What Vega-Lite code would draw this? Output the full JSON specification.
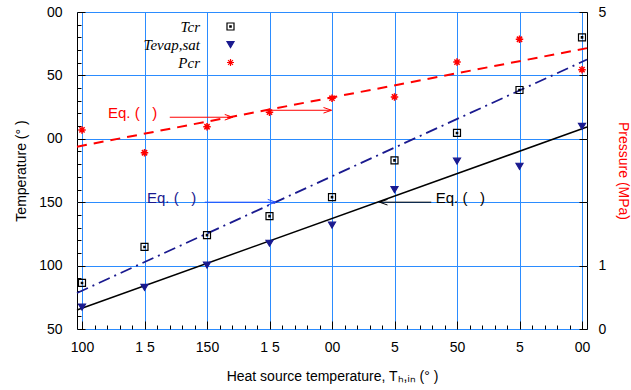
{
  "$schema": "https://vega.github.io/schema/vega-lite/v6.json",
  "width": 510,
  "height": 317,
  "autosize": "none",
  "padding": {"left": 77, "top": 12, "right": 44, "bottom": 61},
  "config": {
    "view": {"stroke": "black", "strokeWidth": 1},
    "font": "Liberation Sans",
    "axis": {"labelFont": "Liberation Sans", "titleFont": "Liberation Sans", "titleFontWeight": "normal", "labelColor": "black", "titleColor": "black", "labelFontSize": 14, "titleFontSize": 14, "domain": false, "tickColor": "black", "labelOverlap": false, "labelFlush": false},
    "legend": {"orient": "none", "legendX": 146, "legendY": 7, "padding": 0, "labelAlign": "right", "labelOffset": -38, "labelFont": "Liberation Serif", "labelFontStyle": "italic", "labelFontSize": 15, "labelColor": "black", "labelLimit": 200, "symbolSize": 49, "symbolStrokeWidth": 1.2, "rowPadding": 2}
  },
  "datasets": {
    "ptsT": [
      {"x": 100, "T": 86.3, "series": "Tcr"}, {"x": 125, "T": 114.7, "series": "Tcr"}, {"x": 150, "T": 124, "series": "Tcr"},
      {"x": 175, "T": 139, "series": "Tcr"}, {"x": 200, "T": 154, "series": "Tcr"}, {"x": 225, "T": 183, "series": "Tcr"},
      {"x": 250, "T": 204.6, "series": "Tcr"}, {"x": 275, "T": 238.5, "series": "Tcr"}, {"x": 300, "T": 280, "series": "Tcr"},
      {"x": 100, "T": 67.4, "series": "Tevap,sat"}, {"x": 125, "T": 83, "series": "Tevap,sat"}, {"x": 150, "T": 100.5, "series": "Tevap,sat"},
      {"x": 175, "T": 117.8, "series": "Tevap,sat"}, {"x": 200, "T": 132, "series": "Tevap,sat"}, {"x": 225, "T": 160, "series": "Tevap,sat"},
      {"x": 250, "T": 182.5, "series": "Tevap,sat"}, {"x": 275, "T": 178.5, "series": "Tevap,sat"}, {"x": 300, "T": 210, "series": "Tevap,sat"}
    ],
    "ptsP": [
      {"x": 100, "P": 3.14, "series": "Pcr"}, {"x": 125, "P": 2.78, "series": "Pcr"}, {"x": 150, "P": 3.19, "series": "Pcr"},
      {"x": 175, "P": 3.42, "series": "Pcr"}, {"x": 200, "P": 3.64, "series": "Pcr"}, {"x": 225, "P": 3.66, "series": "Pcr"},
      {"x": 250, "P": 4.21, "series": "Pcr"}, {"x": 275, "P": 4.57, "series": "Pcr"}, {"x": 300, "P": 4.09, "series": "Pcr"}
    ],
    "fitEvap": [{"x": 98, "T": 65}, {"x": 302, "T": 209.3}],
    "fitCr": [{"x": 98, "T": 78.4}, {"x": 302, "T": 262.5}],
    "fitP": [{"x": 98, "P": 2.875}, {"x": 302, "P": 4.43}],
    "arrowBlue": [{"x": 149.1, "xe": 177.5, "T": 150}],
    "arrowBlack": [{"x": 239.7, "xe": 219, "T": 150}],
    "arrowRed": [{"x": 135.1, "xe": 160.3, "P": 3.34}, {"x": 175, "xe": 199.8, "P": 3.45}],
    "textBlue": [{"x": 126, "T": 153, "label": "Eq. (\u00a0\u00a0\u00a0)"}],
    "textBlack": [{"x": 241.5, "T": 153, "label": "Eq. (\u00a0\u00a0\u00a0)"}],
    "textRed": [{"x": 110.4, "P": 3.41, "label": "Eq. (\u00a0\u00a0\u00a0)"}]
  },
  "encoding": {
    "x": {
      "field": "x", "type": "quantitative",
      "scale": {"domain": [98, 302], "nice": false, "zero": false},
      "axis": {
        "values": [100,105,110,115,120,125,130,135,140,145,150,155,160,165,170,175,180,185,190,195,200,205,210,215,220,225,230,235,240,245,250,255,260,265,270,275,280,285,290,295,300],
        "labelExpr": "datum.value==100?'100':datum.value==125?'1 5':datum.value==150?'150':datum.value==175?'1 5':datum.value==200?'00':datum.value==225?'5':datum.value==250?'50':datum.value==275?'5':datum.value==300?'00':''",
        "tickSize": {"condition": {"test": "datum.value % 25 == 0", "value": -8}, "value": -4},
        "grid": true, "gridColor": "#2b8cff", "gridWidth": 1,
        "gridOpacity": {"condition": {"test": "datum.value % 25 == 0", "value": 1}, "value": 0},
        "labelPadding": 19,
        "title": "Heat source temperature, Tₕ,ᵢₙ (°  )",
        "titlePadding": 11
      }
    }
  },
  "layer": [
    {
      "encoding": {
        "y": {
          "field": "T", "type": "quantitative",
          "scale": {"domain": [50, 300], "nice": false, "zero": false},
          "axis": {
            "orient": "left",
            "values": [50,60,70,80,90,100,110,120,130,140,150,160,170,180,190,200,210,220,230,240,250,260,270,280,290,300],
            "labelExpr": "datum.value==300?'00':datum.value==250?'50':datum.value==200?'00':datum.value==150?'150':datum.value==100?'100':datum.value==50?'50':''",
            "tickSize": {"condition": {"test": "datum.value % 50 == 0", "value": -8}, "value": -4},
            "grid": true, "gridColor": "#2b8cff", "gridWidth": 1,
            "gridOpacity": {"condition": {"test": "datum.value % 50 == 0", "value": 1}, "value": 0},
            "labelPadding": 23,
            "title": "Temperature (°  )",
            "titlePadding": 10
          }
        }
      },
      "layer": [
        {"data": {"name": "fitEvap"}, "mark": {"type": "line", "color": "black", "strokeWidth": 1.5}},
        {"data": {"name": "fitCr"}, "mark": {"type": "line", "color": "#1a1a8f", "strokeWidth": 1.8, "strokeDash": [12, 5, 2, 5]}},
        {"data": {"name": "arrowBlue"}, "mark": {"type": "rule", "color": "#1f4fff", "strokeWidth": 1}, "encoding": {"x2": {"field": "xe"}}},
        {"data": {"name": "arrowBlue"}, "mark": {"type": "point", "shape": "M-1,-0.35L0,0L-1,0.35", "filled": false, "size": 256, "color": "#1f4fff", "strokeWidth": 1, "opacity": 1}, "encoding": {"x": {"field": "xe", "type": "quantitative"}}},
        {"data": {"name": "textBlue"}, "mark": {"type": "text", "align": "left", "baseline": "middle", "fontSize": 15, "color": "#1a1a8f"}, "encoding": {"text": {"field": "label"}}},
        {"data": {"name": "arrowBlack"}, "mark": {"type": "rule", "color": "black", "strokeWidth": 1}, "encoding": {"x2": {"field": "xe"}}},
        {"data": {"name": "arrowBlack"}, "mark": {"type": "point", "shape": "M1,-0.35L0,0L1,0.35", "filled": false, "size": 256, "color": "black", "strokeWidth": 1, "opacity": 1}, "encoding": {"x": {"field": "xe", "type": "quantitative"}}},
        {"data": {"name": "textBlack"}, "mark": {"type": "text", "align": "left", "baseline": "middle", "fontSize": 15, "color": "black"}, "encoding": {"text": {"field": "label"}}},
        {
          "data": {"name": "ptsT"},
          "mark": {"type": "point", "filled": false, "size": 49, "strokeWidth": 1.2, "opacity": 1},
          "encoding": {
            "shape": {"field": "series", "type": "nominal", "scale": {"domain": ["Tcr", "Tevap,sat", "Pcr"], "range": ["M-1,-1H1V1H-1ZM-0.2,-0.2H0.2V0.2H-0.2Z", "M-1,-0.8L1,-0.8L0,0.9Z", "M-1,0H1M0,-1V1M-0.7,-0.7L0.7,0.7M-0.7,0.7L0.7,-0.7"]}, "legend": {"title": null}},
            "stroke": {"field": "series", "type": "nominal", "scale": {"domain": ["Tcr", "Tevap,sat", "Pcr"], "range": ["black", "#1a1a8f", "red"]}, "legend": {"title": null}},
            "fill": {"field": "series", "type": "nominal", "scale": {"domain": ["Tcr", "Tevap,sat", "Pcr"], "range": ["transparent", "#1a1a8f", "transparent"]}, "legend": {"title": null}}
          }
        }
      ]
    },
    {
      "encoding": {
        "y": {
          "field": "P", "type": "quantitative",
          "scale": {"domain": [0, 5], "nice": false, "zero": false},
          "axis": {
            "orient": "right",
            "values": [0, 1, 2, 3, 4, 5],
            "labelExpr": "datum.value==0?'0':datum.value==1?'1':datum.value==5?'5':''",
            "tickSize": -8,
            "grid": false,
            "labelPadding": 19,
            "title": "Pressure (MPa)",
            "titleColor": "red",
            "titlePadding": 10
          }
        }
      },
      "layer": [
        {"data": {"name": "fitP"}, "mark": {"type": "line", "color": "red", "strokeWidth": 2, "strokeDash": [10, 7]}},
        {"data": {"name": "arrowRed"}, "mark": {"type": "rule", "color": "red", "strokeWidth": 1}, "encoding": {"x2": {"field": "xe"}}},
        {"data": {"name": "arrowRed"}, "mark": {"type": "point", "shape": "M-1,-0.35L0,0L-1,0.35", "filled": false, "size": 256, "color": "red", "strokeWidth": 1, "opacity": 1}, "encoding": {"x": {"field": "xe", "type": "quantitative"}}},
        {"data": {"name": "textRed"}, "mark": {"type": "text", "align": "left", "baseline": "middle", "fontSize": 15, "color": "red"}, "encoding": {"text": {"field": "label"}}},
        {
          "data": {"name": "ptsP"},
          "mark": {"type": "point", "filled": false, "size": 56, "strokeWidth": 1.5, "opacity": 1},
          "encoding": {
            "shape": {"field": "series", "type": "nominal", "scale": {"domain": ["Tcr", "Tevap,sat", "Pcr"], "range": ["M-1,-1H1V1H-1ZM-0.2,-0.2H0.2V0.2H-0.2Z", "M-1,-0.8L1,-0.8L0,0.9Z", "M-1,0H1M0,-1V1M-0.7,-0.7L0.7,0.7M-0.7,0.7L0.7,-0.7"]}, "legend": {"title": null}},
            "stroke": {"field": "series", "type": "nominal", "scale": {"domain": ["Tcr", "Tevap,sat", "Pcr"], "range": ["black", "#1a1a8f", "red"]}, "legend": {"title": null}},
            "fill": {"field": "series", "type": "nominal", "scale": {"domain": ["Tcr", "Tevap,sat", "Pcr"], "range": ["transparent", "#1a1a8f", "transparent"]}, "legend": {"title": null}}
          }
        }
      ]
    }
  ],
  "resolve": {"scale": {"y": "independent"}}
}
